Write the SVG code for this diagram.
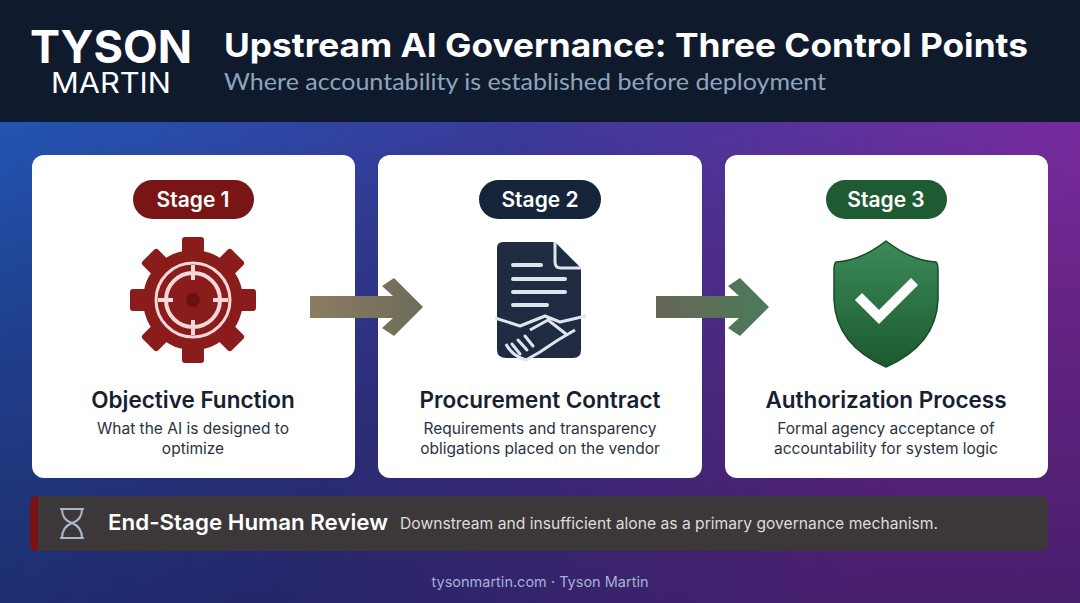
<svg xmlns="http://www.w3.org/2000/svg" width="1080" height="603" viewBox="0 0 1080 603">
<defs>
<linearGradient id="bg" x1="0" y1="0" x2="1" y2="0.3">
<stop offset="0" stop-color="#1d58b4"/><stop offset="0.5" stop-color="#3a3a9a"/><stop offset="1" stop-color="#7a2a9e"/>
</linearGradient>
<linearGradient id="bgb" x1="0" y1="0" x2="0" y2="1">
<stop offset="0" stop-color="#000" stop-opacity="0"/><stop offset="1" stop-color="#0a1030" stop-opacity="0.45"/>
</linearGradient>
<linearGradient id="a1" x1="0" y1="0" x2="1" y2="0"><stop offset="0" stop-color="#8c7c62"/><stop offset="1" stop-color="#6d6c5a"/></linearGradient>
<linearGradient id="a2" x1="0" y1="0" x2="1" y2="0"><stop offset="0" stop-color="#686656"/><stop offset="1" stop-color="#4a7a5a"/></linearGradient>
<linearGradient id="sh" x1="0" y1="0" x2="0" y2="1"><stop offset="0" stop-color="#3d8a58"/><stop offset="1" stop-color="#1a5a30"/></linearGradient>
<style>
.card{fill:#fff}
.pill{font:600 21px "Inter","Liberation Sans",sans-serif;fill:#fff;text-anchor:middle}
.t{font:600 22.5px "Inter","Liberation Sans",sans-serif;fill:#172030;text-anchor:middle}
.d{font:15.5px "Inter","Liberation Sans",sans-serif;fill:#2a3340;text-anchor:middle}
</style>
</defs>
<rect width="1080" height="603" fill="url(#bg)"/>
<rect y="122" width="1080" height="481" fill="url(#bgb)"/>
<rect width="1080" height="122" fill="#0f1a2d"/>
<text x="30" y="63" font-family="Inter,'Liberation Sans',sans-serif" font-weight="700" font-size="45" fill="#fff" textLength="162" lengthAdjust="spacingAndGlyphs">TYSON</text>
<text x="51" y="93" font-family="Inter,'Liberation Sans',sans-serif" font-size="28" fill="#fff" textLength="120" lengthAdjust="spacingAndGlyphs">MARTIN</text>
<text x="224" y="57" font-family="Inter,'Liberation Sans',sans-serif" font-weight="700" font-size="33" fill="#fff" textLength="804" lengthAdjust="spacingAndGlyphs">Upstream AI Governance: Three Control Points</text>
<text x="224" y="90" font-family="Lato,'Liberation Sans',sans-serif" font-size="24" fill="#8ea4bd" textLength="602" lengthAdjust="spacingAndGlyphs">Where accountability is established before deployment</text>

<g id="stage1">
<rect class="card" x="32" y="155" width="323" height="323" rx="12"/>
<rect x="133" y="180" width="121" height="39" rx="19.5" fill="#7a1515"/>
<text class="pill" x="193" y="207">Stage 1</text>
<g transform="translate(193,300)" fill="#8a1c1c">
<circle r="50"/>
<g id="tooth"><rect x="-11" y="-63" width="22" height="20" rx="3"/></g>
<use href="#tooth" transform="rotate(45)"/><use href="#tooth" transform="rotate(90)"/><use href="#tooth" transform="rotate(135)"/>
<use href="#tooth" transform="rotate(180)"/><use href="#tooth" transform="rotate(225)"/><use href="#tooth" transform="rotate(270)"/><use href="#tooth" transform="rotate(315)"/>
<circle r="37" fill="none" stroke="#f2d8d8" stroke-width="3"/>
<circle r="27" fill="none" stroke="#f2d8d8" stroke-width="4"/>
<path d="M0-35V-20M0 20V35M-35 0H-20M20 0H35" stroke="#f2d8d8" stroke-width="4"/>
<circle r="7" fill="#6a1010"/>
</g>
<text class="t" x="193" y="408">Objective Function</text>
<text class="d" x="193" y="434">What the AI is designed to</text>
<text class="d" x="193" y="454">optimize</text>
</g>

<g id="stage2">
<rect class="card" x="378" y="155" width="324" height="323" rx="12"/>
<rect x="479" y="180" width="122" height="39" rx="19.5" fill="#162439"/>
<text class="pill" x="540" y="207">Stage 2</text>
<path d="M500 242H555L581 268V350Q581 358 573 358H507Q497 358 497 350V248Q497 242 503 242Z" fill="#1e2b40"/>
<path d="M555 242V262Q555 268 561 268H581" fill="none" stroke="#dfe5ec" stroke-width="3"/>
<g stroke="#dfe5ec" stroke-width="4" stroke-linecap="round">
<path d="M513 265H541M513 279H565M513 292H565M513 305H547"/>
</g>
<path d="M495 318L520 326L545 316L560 322L586 316M506 344Q512 356 526 360L540 352L558 340L575 330M530 330L548 320L566 334" fill="none" stroke="#dfe5ec" stroke-width="3" stroke-linejoin="round"/>
<path d="M512 344L520 354M518 340L527 350M525 336L533 346" stroke="#dfe5ec" stroke-width="3" stroke-linecap="round"/>
<text class="t" x="540" y="408">Procurement Contract</text>
<text class="d" x="540" y="434">Requirements and transparency</text>
<text class="d" x="540" y="454">obligations placed on the vendor</text>
</g>

<g id="stage3">
<rect class="card" x="725" y="155" width="323" height="323" rx="12"/>
<rect x="826" y="180" width="121" height="39" rx="19.5" fill="#1e5a32"/>
<text class="pill" x="886" y="207">Stage 3</text>
<path d="M886 241Q860 261 836 262Q834 264 834 270V300Q836 345 886 367Q936 345 938 300V270Q938 264 936 262Q912 261 886 241Z" fill="url(#sh)" stroke="#164a28" stroke-width="1.5"/>
<path d="M862 300L879 317L911 285" fill="none" stroke="#fff" stroke-width="10" stroke-linejoin="miter" stroke-linecap="square"/>
<text class="t" x="886" y="408">Authorization Process</text>
<text class="d" x="886" y="434">Formal agency acceptance of</text>
<text class="d" x="886" y="454">accountability for system logic</text>
</g>

<g id="connectors">
<path d="M310 296H393L382 286L394 278L423 307L394 336L382 328L393 318H310Z" fill="url(#a1)"/>
<path d="M656 296H739L728 286L740 278L769 307L740 336L728 328L739 318H656Z" fill="url(#a2)"/>
</g>

<g id="review">
<rect x="30" y="496" width="1018" height="55" rx="8" fill="#3c3839"/>
<path d="M38 496V551Q30 551 30 543V504Q30 496 38 496Z" fill="#7a1010"/>
<g fill="none" stroke="#a9b8d0" stroke-width="2">
<path d="M60 509H84M60 538H84M62 509Q62 520 72 523Q82 520 82 509M62 538Q62 527 72 523Q82 527 82 538"/>
</g>
<text x="108" y="530" font-family="Inter,'Liberation Sans',sans-serif" font-weight="600" font-size="22" fill="#fff" textLength="280" lengthAdjust="spacingAndGlyphs">End-Stage Human Review</text>
<text x="400" y="529" font-family="Inter,'Liberation Sans',sans-serif" font-size="15.6" fill="#dcdcdc" textLength="538" lengthAdjust="spacingAndGlyphs">Downstream and insufficient alone as a primary governance mechanism.</text>
</g>
<text x="540" y="587" text-anchor="middle" font-family="Inter,'Liberation Sans',sans-serif" font-size="14.5" fill="#a3b2d2">tysonmartin.com · Tyson Martin</text>
</svg>
